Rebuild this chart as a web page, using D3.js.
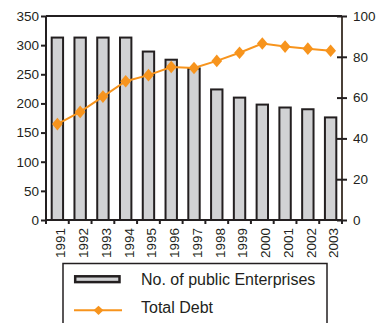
<!DOCTYPE html>
<html>
<head>
<meta charset="utf-8">
<script src="https://cdn.jsdelivr.net/npm/d3@7"></script>
<style>
  html, body { margin: 0; padding: 0; background: #fff; }
  svg { display: block; font-family: "Liberation Sans", Arial, sans-serif; }
</style>
</head>
<body>
<svg id="chart" width="377" height="323"></svg>
<script>
// Number of public enterprises (left axis) and total debt (right axis), 1991–2003
const years = ["1991","1992","1993","1994","1995","1996","1997","1998","1999","2000","2001","2002","2003"];
const enterprises = [313, 313, 313, 313, 289, 275, 260, 224, 210, 198, 193, 190, 176];
const totalDebt = [47, 53, 60.5, 68, 71, 75, 74.5, 78, 82, 86.5, 85, 84, 83];
const leftTicks = [0, 50, 100, 150, 200, 250, 300, 350];
const rightTicks = [0, 20, 40, 60, 80, 100];
const seriesNames = ["No. of public Enterprises", "Total Debt"];

const ink = "#231f20";
const orange = "#f7941d";
const barFill = "#d1d2d4";

const svg = d3.select("#chart");
const plotLeft = 46, plotRight = 342, plotTop = 16, plotBottom = 220;

const x = d3.scaleBand().domain(years).range([plotLeft, plotRight]).padding(0);
const yL = d3.scaleLinear().domain([0, 350]).range([plotBottom, plotTop]);
const yR = d3.scaleLinear().domain([0, 100]).range([plotBottom, plotTop]);

// bars
const bw = x.bandwidth() * 0.5;
svg.append("g").selectAll("rect").data(years).join("rect")
  .attr("x", d => x(d) + x.bandwidth() / 2 - bw / 2)
  .attr("y", (d, i) => yL(enterprises[i]))
  .attr("width", bw)
  .attr("height", (d, i) => yL(0) - yL(enterprises[i]))
  .attr("fill", barFill)
  .attr("stroke", ink)
  .attr("stroke-width", 2);

// top frame line
svg.append("line").attr("x1", plotLeft).attr("x2", plotRight).attr("y1", plotTop).attr("y2", plotTop)
  .attr("stroke", ink).attr("stroke-width", 2);

// left axis
const axL = svg.append("g").attr("transform", `translate(${plotLeft},0)`)
  .call(d3.axisLeft(yL).tickValues(leftTicks).tickSize(5).tickPadding(2));
// right axis
const axR = svg.append("g").attr("transform", `translate(${plotRight},0)`)
  .call(d3.axisRight(yR).tickValues(rightTicks).tickSize(5).tickPadding(6));
axR.selectAll(".tick line").attr("x1", -5);
// bottom axis with ticks at band boundaries
const axB = svg.append("g").attr("transform", `translate(0,${plotBottom})`)
  .call(d3.axisBottom(x).tickSize(0).tickPadding(0));
axB.selectAll(".tick text")
  .attr("transform", "rotate(-90)")
  .attr("text-anchor", "end")
  .attr("x", -8).attr("y", 0).attr("dy", "0.58em");
axB.append("g").selectAll("line").data(d3.range(years.length + 1)).join("line")
  .attr("x1", i => plotLeft + i * x.step()).attr("x2", i => plotLeft + i * x.step())
  .attr("y1", 0).attr("y2", 4).attr("stroke", ink).attr("stroke-width", 2);

[axL, axR, axB].forEach(g => {
  g.select(".domain").attr("stroke", ink).attr("stroke-width", 2);
  g.selectAll(".tick line").attr("stroke", ink).attr("stroke-width", 2);
  g.selectAll(".tick text").attr("fill", ink).style("font-size", "13.5px");
});
axL.select(".domain").attr("d", `M0,${plotBottom}V${plotTop}`);
axR.select(".domain").attr("d", `M0,${plotBottom}V${plotTop}`).attr("stroke", "#4a4038");
axB.select(".domain").attr("d", `M${plotLeft},0H${plotRight}`);

// debt line with diamond markers (slightly taller than wide)
const line = d3.line().x((d, i) => x(years[i]) + x.bandwidth() / 2).y(d => yR(d));
svg.append("path").datum(totalDebt).attr("d", line)
  .attr("fill", "none").attr("stroke", orange).attr("stroke-width", 2);
const diamond = d3.symbol().type(d3.symbolDiamond2).size(74);
svg.append("g").selectAll("path").data(totalDebt).join("path")
  .attr("d", diamond)
  .attr("transform", (d, i) => `translate(${x(years[i]) + x.bandwidth() / 2},${yR(d)}) scale(1,1.17)`)
  .attr("fill", orange);

// legend
const lg = svg.append("g");
lg.append("rect").attr("x", 63).attr("y", 263.5).attr("width", 264).attr("height", 70)
  .attr("fill", "#fff").attr("stroke", ink).attr("stroke-width", 1.5);
lg.append("rect").attr("x", 75.2).attr("y", 276.3).attr("width", 44.3).attr("height", 5.8)
  .attr("fill", barFill).attr("stroke", ink).attr("stroke-width", 2.5);
lg.append("line").attr("x1", 74).attr("x2", 122).attr("y1", 310.3).attr("y2", 310.3)
  .attr("stroke", orange).attr("stroke-width", 2);
lg.append("path").attr("d", d3.symbol().type(d3.symbolDiamond2).size(62))
  .attr("transform", "translate(98.5,310.3) scale(1,0.93)").attr("fill", orange);
lg.selectAll("text").data(seriesNames).join("text")
  .attr("x", 141).attr("y", (d, i) => 285 + i * 28)
  .attr("fill", ink).style("font-size", "16px")
  .text(d => d);
</script>
</body>
</html>
